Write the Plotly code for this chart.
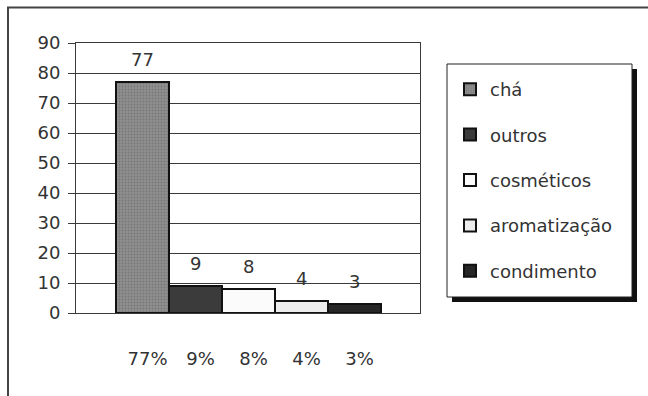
import plotly.graph_objects as go

# Usage categories and their counts
categories = ["chá", "outros", "cosméticos", "aromatização", "condimento"]
counts = [77, 9, 8, 4, 3]
percent_labels = ["77%", "9%", "8%", "4%", "3%"]

# Grey-scale fills for each category
fills = ["#8f8f8f", "#3b3b3b", "#fbfbfb", "#ececec", "#262626"]

FONT = "DejaVu Sans"
FS = 18
TEXT = "#333333"
LINE = "#3a3a3a"

W, H = 648, 396
M_L, M_R, M_T, M_B = 76, 228, 43, 83
PW, PH = W - M_L - M_R, H - M_T - M_B


def px_x(p):
    """Pixel column -> paper x."""
    return (p - M_L) / PW


def px_y(p):
    """Pixel row -> paper y."""
    return (H - M_B - p) / PH


fig = go.Figure()
for i, (name, v, c) in enumerate(zip(categories, counts, fills)):
    marker = dict(color=c, line=dict(color="#111111", width=2))
    if i == 0:
        marker["pattern"] = dict(shape=".", size=3, solidity=0.3,
                                 fgcolor="#777777", bgcolor=c, fillmode="replace")
    fig.add_trace(go.Bar(
        x=[i], y=[v], name=name, marker=marker,
        legendgroup=name, showlegend=True, hoverinfo="skip",
    ))

# value labels above bars
for i, v in enumerate(counts):
    fig.add_annotation(x=i, y=v, xref="x", yref="y", text=str(v),
                       showarrow=False, yanchor="bottom", yshift=10,
                       font=dict(family=FONT, size=FS, color=TEXT))

shapes = []
# outer frame (top and left edges visible)
shapes.append(dict(type="rect", xref="paper", yref="paper",
                   x0=px_x(8), x1=px_x(800), y0=px_y(500), y1=px_y(7.5),
                   line=dict(color="#444444", width=2), fillcolor="rgba(0,0,0,0)",
                   layer="below"))
# legend shadow and box
shapes.append(dict(type="rect", xref="paper", yref="paper",
                   x0=px_x(452), x1=px_x(637), y0=px_y(302), y1=px_y(69),
                   line=dict(width=0), fillcolor="#111111", layer="above"))
shapes.append(dict(type="rect", xref="paper", yref="paper",
                   x0=px_x(447), x1=px_x(632), y0=px_y(297), y1=px_y(64),
                   line=dict(color="#222222", width=1), fillcolor="#ffffff", layer="above"))

fig.update_layout(
    width=W, height=H,
    margin=dict(l=M_L, r=M_R, t=M_T, b=M_B, pad=0),
    paper_bgcolor="white", plot_bgcolor="white",
    barmode="overlay", bargap=0,
    font=dict(family=FONT, size=FS, color=TEXT),
    showlegend=True,
    legend=dict(
        x=px_x(450), y=px_y(71), xanchor="left", yanchor="top",
        bgcolor="rgba(0,0,0,0)", borderwidth=0,
        font=dict(family=FONT, size=FS, color=TEXT),
        tracegroupgap=19, itemclick=False, itemdoubleclick=False,
    ),
    shapes=shapes,
    xaxis=dict(
        range=[-1.255, 5.236], tickvals=list(range(len(categories))),
        ticktext=percent_labels, ticks="", showgrid=False, zeroline=False,
        showline=True, linecolor=LINE, linewidth=1, mirror=True,
        ticklabelstandoff=29, ticklabelshift=5,
        tickfont=dict(family=FONT, size=FS, color=TEXT), fixedrange=True,
    ),
    yaxis=dict(
        range=[0, 90], dtick=10, ticks="outside", ticklen=7, tickcolor=LINE,
        showgrid=True, gridcolor=LINE, gridwidth=1, zeroline=False,
        showline=True, linecolor=LINE, linewidth=1, mirror=True,
        ticklabelstandoff=4,
        tickfont=dict(family=FONT, size=FS, color=TEXT), fixedrange=True,
    ),
)

fig.write_html("out.html", config={"displayModeBar": False})
